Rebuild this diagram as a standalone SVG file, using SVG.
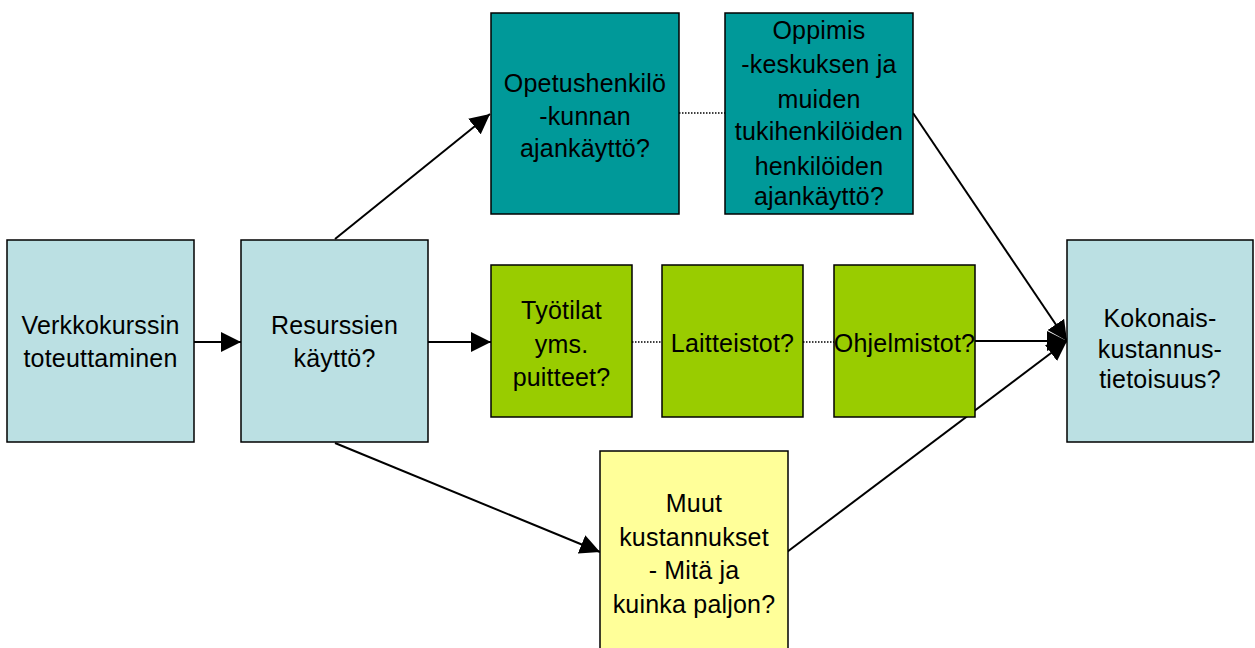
<svg xmlns="http://www.w3.org/2000/svg" width="1255" height="648" viewBox="0 0 1255 648">
  <style>
    .box { stroke: #000; stroke-width: 1.5; }
    .pale { fill: #BBE0E3; }
    .teal { fill: #009999; }
    .green { fill: #99CC00; }
    .yellow { fill: #FFFF99; }
    .lbl { font-family: "Liberation Sans", Arial, sans-serif; font-size: 25px; letter-spacing: 0.2px; fill: #000; text-anchor: middle; }
    .link { stroke: #000; stroke-width: 2; fill: none; }
    .dots { stroke: #000; stroke-width: 1.5; stroke-dasharray: 1.5 1.5; fill: none; }
  </style>
  <defs>
    <marker id="head" markerUnits="userSpaceOnUse" markerWidth="20" markerHeight="20" refX="20" refY="10" orient="auto">
      <path d="M0,0 L20,10 L0,20 Z" fill="#000"/>
    </marker>
  </defs>

  <rect width="1255" height="648" fill="#fff"/>

  <g id="connectors">
    <line class="link" x1="194" y1="342" x2="241" y2="342" marker-end="url(#head)"/>
    <line class="link" x1="335" y1="239" x2="490" y2="114" marker-end="url(#head)"/>
    <line class="link" x1="428" y1="342" x2="491" y2="342" marker-end="url(#head)"/>
    <line class="link" x1="335" y1="443" x2="600" y2="552" marker-end="url(#head)"/>
    <line class="dots" x1="679" y1="113" x2="725" y2="113"/>
    <line class="dots" x1="632" y1="342" x2="662" y2="342"/>
    <line class="dots" x1="803" y1="342" x2="834" y2="342"/>
    <line class="link" x1="913" y1="113" x2="1067" y2="341" marker-end="url(#head)"/>
    <line class="link" x1="975" y1="341" x2="1067" y2="341" marker-end="url(#head)"/>
    <line class="link" x1="787" y1="552" x2="1067" y2="341" marker-end="url(#head)"/>
  </g>

  <g id="verkkokurssi">
    <rect class="box pale" x="7" y="240" width="187" height="202"/>
    <text class="lbl" x="100.5" y="334">Verkkokurssin</text>
    <text class="lbl" x="100.5" y="367">toteuttaminen</text>
  </g>

  <g id="resurssit">
    <rect class="box pale" x="241" y="240" width="187" height="202"/>
    <text class="lbl" x="334.5" y="334">Resurssien</text>
    <text class="lbl" x="334.5" y="367">käyttö?</text>
  </g>

  <g id="opetushenkilokunta">
    <rect class="box teal" x="491" y="13" width="188" height="201"/>
    <text class="lbl" x="585" y="92">Opetushenkilö</text>
    <text class="lbl" x="585" y="125">-kunnan</text>
    <text class="lbl" x="585" y="157">ajankäyttö?</text>
  </g>

  <g id="tukihenkilot">
    <rect class="box teal" x="725" y="13" width="188" height="201"/>
    <text class="lbl" x="819" y="39">Oppimis</text>
    <text class="lbl" x="819" y="73">-keskuksen ja</text>
    <text class="lbl" x="819" y="108">muiden</text>
    <text class="lbl" x="819" y="140">tukihenkilöiden</text>
    <text class="lbl" x="819" y="175">henkilöiden</text>
    <text class="lbl" x="819" y="205">ajankäyttö?</text>
  </g>

  <g id="tyotilat">
    <rect class="box green" x="491" y="265" width="141" height="152"/>
    <text class="lbl" x="561.5" y="319">Työtilat</text>
    <text class="lbl" x="561.5" y="353">yms.</text>
    <text class="lbl" x="561.5" y="386">puitteet?</text>
  </g>

  <g id="laitteistot">
    <rect class="box green" x="662" y="265" width="141" height="152"/>
    <text class="lbl" x="732.5" y="352">Laitteistot?</text>
  </g>

  <g id="ohjelmistot">
    <rect class="box green" x="834" y="265" width="141" height="152"/>
    <text class="lbl" x="904.5" y="352">Ohjelmistot?</text>
  </g>

  <g id="muut-kustannukset">
    <rect class="box yellow" x="600" y="451" width="188" height="205"/>
    <text class="lbl" x="694" y="512">Muut</text>
    <text class="lbl" x="694" y="546">kustannukset</text>
    <text class="lbl" x="694" y="579">- Mitä ja</text>
    <text class="lbl" x="694" y="613">kuinka paljon?</text>
  </g>

  <g id="kokonaiskustannukset">
    <rect class="box pale" x="1067" y="240" width="186" height="202"/>
    <text class="lbl" x="1160" y="327">Kokonais-</text>
    <text class="lbl" x="1160" y="358">kustannus-</text>
    <text class="lbl" x="1160" y="388">tietoisuus?</text>
  </g>
</svg>
